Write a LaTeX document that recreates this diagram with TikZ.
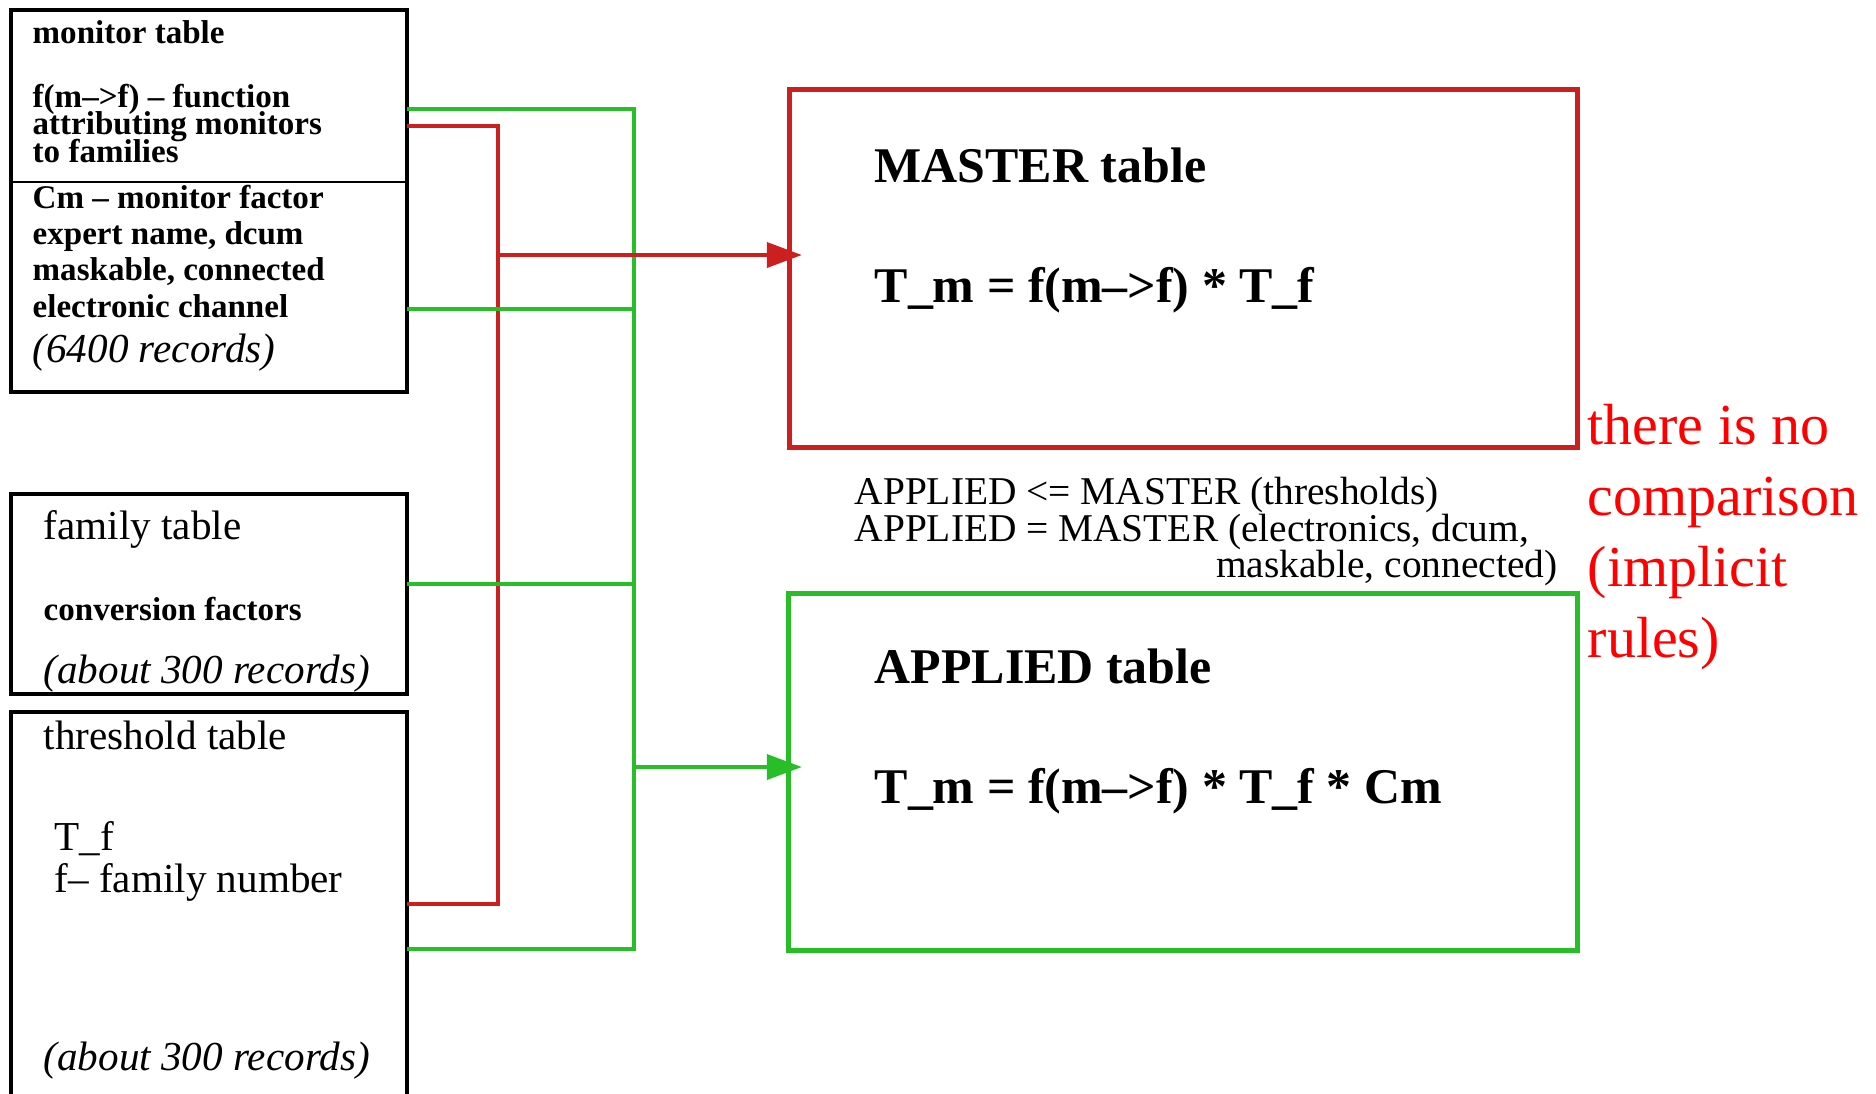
\documentclass[tikz,border=0pt]{standalone}
\usepackage{fontspec}
\setmainfont{Liberation Serif}
\usetikzlibrary{arrows.meta,positioning}
\definecolor{linered}{RGB}{204,32,32}
\definecolor{linegreen}{RGB}{40,190,40}
\definecolor{notered}{RGB}{255,0,0}
\newcommand{\fsmall}{\fontsize{9.4pt}{7.8pt}\selectfont\lineskiplimit=-8pt\bfseries}
\newcommand{\fsmallwide}{\fontsize{9.4pt}{10.3pt}\selectfont\lineskiplimit=-8pt\bfseries}
\newcommand{\fbody}{\fontsize{11.7pt}{11.7pt}\selectfont\lineskiplimit=-8pt}
\newcommand{\fbig}{\fontsize{14.2pt}{17pt}\selectfont\bfseries}
\newcommand{\fnote}{\fontsize{11.2pt}{10.5pt}\selectfont\lineskiplimit=-8pt}
\newcommand{\fred}{\fontsize{16.5pt}{20.1pt}\selectfont\lineskiplimit=-8pt}
\tikzset{
  tbl/.style={draw, line width=1.1pt, inner sep=0pt, minimum width=3.96cm},
  masterbox/.style={draw=linered, line width=1.4pt, inner sep=0pt, minimum width=7.87cm, minimum height=3.57cm},
  appliedbox/.style={draw=linegreen, line width=1.4pt, inner sep=0pt, minimum width=7.88cm, minimum height=3.56cm},
  rline/.style={draw=linered, line width=1.4pt},
  gline/.style={draw=linegreen, line width=1.4pt},
  tip/.style={-{Triangle[length=10pt,width=7pt]}},
  lbl/.style={anchor=base west, inner sep=0pt, align=left},
}
\begin{document}
\begin{tikzpicture}[x=0.01cm, y=-0.01cm]
  \useasboundingbox (0,0) rectangle (1876,1093);

  % tables on the left
  \node[tbl, minimum height=3.81cm] (mon) at (209,201) {};
  \node[tbl, minimum height=2.00cm] (fam) at (209,594) {};
  \node[tbl, minimum height=3.98cm] (thr) at (209,911) {};
  \coordinate (divy) at (0,182);
  \draw[line width=0.8pt] (mon.west |- divy) -- (mon.east |- divy);

  % multi-line labels sit on the baseline of their last line
  \node[lbl, font=\fsmall] (monT) at (32,43) {monitor table};
  \node[lbl, font=\fsmall] (monA) at (32,162) {f(m-->f) -- function\\attributing monitors\\to families};
  \node[lbl, font=\fsmallwide] (monB) at (32,317)
    {Cm -- monitor factor\\expert name, dcum\\maskable, connected\\electronic channel};
  \node[lbl, font=\fbody\itshape] (monN) at (32,362) {(6400 records)};

  \node[lbl, font=\fbody] (famT) at (43,539) {family table};
  \node[lbl, font=\fsmall] (famA) at (43,620) {conversion factors};
  \node[lbl, font=\fbody\itshape] (famN) at (43,683) {(about 300 records)};

  \node[lbl, font=\fbody] (thrT) at (43,749) {threshold table};
  \node[lbl, font=\fbody] (thrA) at (54,892) {T\_f\\f-- family number};
  \node[lbl, font=\fbody\itshape] (thrN) at (43,1070) {(about 300 records)};

  % target tables
  \node[masterbox] (mas) at (1183.5,268.5) {};
  \node[appliedbox] (app) at (1183,772) {};
  \node[lbl, font=\fbig] (masT) at (874,182) {MASTER table};
  \node[lbl, font=\fbig] (masF) at (874,302) {T\_m = f(m-->f) * T\_f};
  \node[lbl, font=\fbig] (appT) at (874,683) {APPLIED table};
  \node[lbl, font=\fbig] (appF) at (874,803) {T\_m = f(m-->f) * T\_f * Cm};

  \node[lbl, font=\fnote] (rule) at (854,541) {APPLIED <= MASTER (thresholds)\\APPLIED = MASTER (electronics, dcum,};
  \node[anchor=base east, inner sep=0pt, font=\fnote] (ruleB) at (1558,577) {maskable, connected)};
  \node[lbl, font=\fred, text=notered] (remark) at (1587,657) {there is no\\comparison\\(implicit\\rules)};

  % red bus
  \coordinate (monR) at (407,126);
  \coordinate (thrR) at (407,904);
  \coordinate (rtop) at (498,126);
  \coordinate (rbot) at (498,904);
  \coordinate (masIn) at (802,255);
  \draw[rline] (monR) -- (rtop) -- (rbot) -- (thrR);

  % green bus
  \coordinate (monG) at (407,109);
  \coordinate (monC) at (407,309);
  \coordinate (famG) at (407,584);
  \coordinate (thrG) at (407,949);
  \coordinate (gtop) at (634,109);
  \coordinate (gbot) at (634,949);
  \coordinate (appIn) at (802,767);
  \draw[gline] (monG) -- (gtop) -- (gbot) -- (thrG);
  \draw[gline] (monC) -- (monC -| gtop);
  \draw[gline] (famG) -- (famG -| gtop);
  \draw[gline, tip] (gtop |- appIn) -- (appIn);

  \draw[rline, tip] (rtop |- masIn) -- (masIn);
\end{tikzpicture}
\end{document}
